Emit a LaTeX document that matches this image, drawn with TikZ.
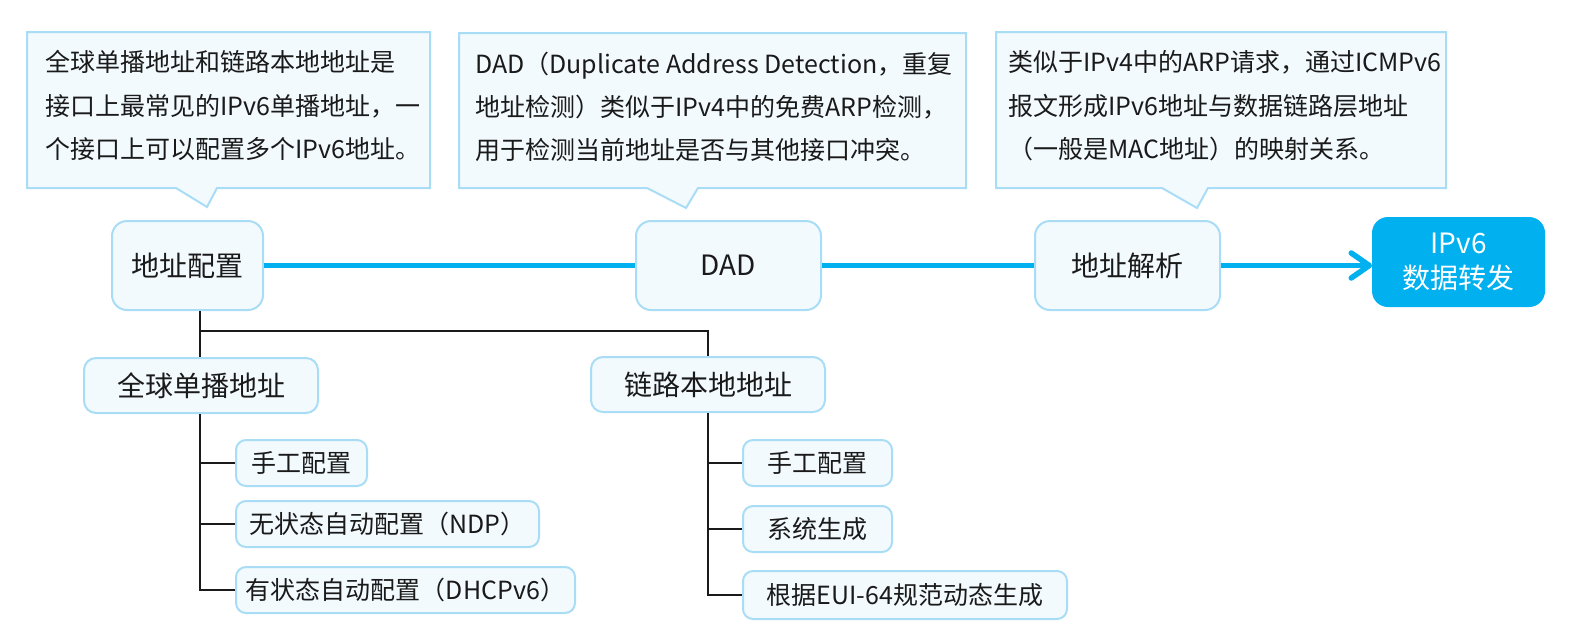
\documentclass[tikz,border=0pt]{standalone}
\usepackage{fontspec}
\setmainfont{Noto Sans CJK SC}
\usetikzlibrary{arrows.meta}
\definecolor{boxfill}{HTML}{F2FAFE}
\definecolor{boxline}{HTML}{A9DDF5}
\definecolor{cyanblue}{HTML}{00B0EF}
\definecolor{txt}{HTML}{1A1A1A}
\begin{document}
\begin{tikzpicture}[x=1pt,y=-1pt,
  every node/.style={inner sep=0pt, text=txt},
  mainbox/.style={draw=boxline, line width=2pt, fill=boxfill, rounded corners=15pt, font=\fontsize{28}{34}\selectfont, minimum height=89pt},
  subbox/.style={draw=boxline, line width=2pt, fill=boxfill, rounded corners=12pt, font=\fontsize{28}{34}\selectfont, minimum height=55pt, minimum width=234pt},
  leafbox/.style={draw=boxline, line width=2pt, fill=boxfill, rounded corners=10pt, font=\fontsize{25}{30}\selectfont, minimum height=46pt},
  callout/.style={draw=boxline, line width=2pt, fill=boxfill},
  calltext/.style={anchor=base west, font=\fontsize{25}{30}\selectfont},
  flow/.style={draw=cyanblue, line width=5.5pt},
  tree/.style={draw=txt, line width=2.5pt},
]
\useasboundingbox (0,0) rectangle (1578,633);

% callouts
\path[callout] (27,32) -- (430,32) -- (430,188) -- (217,188) -- (207,207) -- (176,188) -- (27,188) -- cycle;
\path[callout] (459,33) -- (966,33) -- (966,188) -- (698,188) -- (686,208) -- (647,188) -- (459,188) -- cycle;
\path[callout] (996,32) -- (1446,32) -- (1446,188) -- (1208,188) -- (1197,208) -- (1162,188) -- (996,188) -- cycle;

\node[calltext] (c1a) at (45,71) {全球单播地址和链路本地地址是};
\node[calltext] (c1b) at (45,115) {接口上最常见的IPv6单播地址，一};
\node[calltext] (c1c) at (45,158) {个接口上可以配置多个IPv6地址。};

\node[calltext] (c2a) at (475,73) {DAD（Duplicate Address Detection，重复};
\node[calltext] (c2b) at (475,116) {地址检测）类似于IPv4中的免费ARP检测，};
\node[calltext] (c2c) at (475,159) {用于检测当前地址是否与其他接口冲突。};

\node[calltext] (c3a) at (1008,71) {类似于IPv4中的ARP请求，通过ICMPv6};
\node[calltext] (c3b) at (1008,115) {报文形成IPv6地址与数据链路层地址};
\node[calltext] (c3c) at (1008,158) {（一般是MAC地址）的映射关系。};

% main flow
\node[mainbox, minimum width=151pt] (addr) at (187.5,265.5) {地址配置};
\node[mainbox, minimum width=185pt] (dad) at (728.5,265.5) {DAD};
\node[mainbox, minimum width=185pt] (res) at (1127.5,265.5) {地址解析};
\node[mainbox, fill=cyanblue, draw=cyanblue, minimum width=171pt, minimum height=88pt, align=center, text=white, font=\fontsize{28}{35}\selectfont] (fwd) at (1458.5,262) {IPv6\\数据转发};

\draw[flow] (addr.east) -- (dad.west);
\draw[flow] (dad.east) -- (res.west);
\draw[flow, -{Straight Barb[length=18pt,width=25pt,round]}] (res.east) -- (res.east -| fwd.west);

% tree
\node[subbox] (gsa) at (201,385.5) {全球单播地址};
\node[subbox] (lla) at (708,384.5) {链路本地地址};

\node[leafbox, minimum width=131pt] (g1) at (301.5,463) {手工配置};
\node[leafbox, minimum width=303pt] (g2) at (387.5,524) {无状态自动配置（NDP）};
\node[leafbox, minimum width=339pt] (g3) at (405.5,590) {有状态自动配置（DHCPv6）};

\node[leafbox, minimum width=149pt] (r1) at (817.5,463) {手工配置};
\node[leafbox, minimum width=149pt] (r2) at (817.5,529) {系统生成};
\node[leafbox, minimum width=324pt, minimum height=48pt] (r3) at (905,595) {根据EUI-64规范动态生成};

\coordinate (j) at (200,331);
\draw[tree] (addr.south -| j) -- (gsa.north -| j);
\draw[tree] (j) -| (lla.north);
\draw[tree] (gsa.south -| j) |- (g3.west);
\draw[tree] (g1.west -| j) -- (g1.west);
\draw[tree] (g2.west -| j) -- (g2.west);
\draw[tree] (lla.south) |- (r3.west);
\draw[tree] (r1.west -| lla.south) -- (r1.west);
\draw[tree] (r2.west -| lla.south) -- (r2.west);
\end{tikzpicture}
\end{document}
